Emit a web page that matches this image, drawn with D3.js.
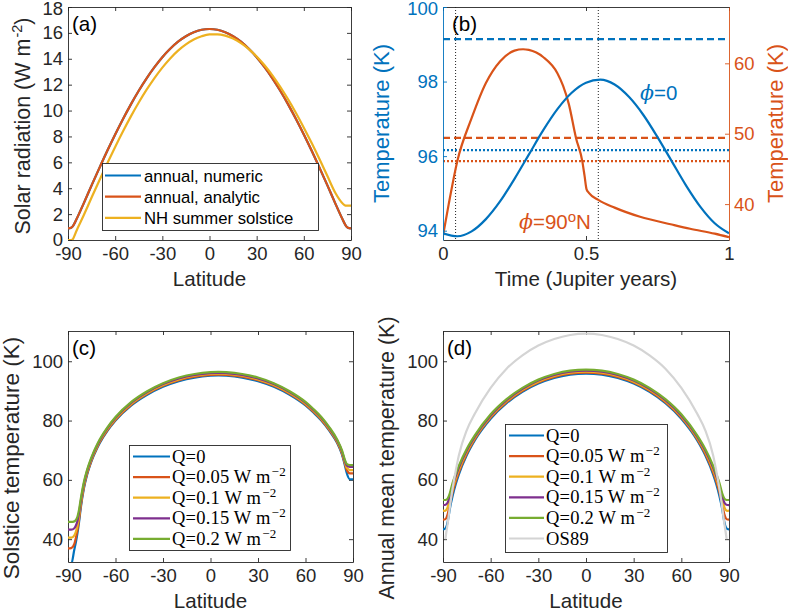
<!DOCTYPE html>
<html><head><meta charset="utf-8">
<script src="https://cdn.jsdelivr.net/npm/d3@7"></script>
<style>body{margin:0;background:#fff}svg{display:block}</style>
</head><body><svg id="chart" width="788" height="613"></svg>
<script>
// ---------------- DATA ----------------
// (a) solar radiation vs latitude
const latA = [-90,-88,-87,-86,-85,-80,-75,-70,-65,-60,-55,-50,-45,-40,-35,-30,-25,-20,-15,-10,-5,0,5,10,15,20,25,30,35,40,45,50,55,60,65,70,75,80,85,86,87,88,90];
const radNumeric = [0.9,0.95,1.05,1.25,1.5,2.83,4.22,5.57,6.89,8.15,9.35,10.48,11.53,12.49,13.35,14.12,14.77,15.32,15.74,16.05,16.24,16.3,16.24,16.05,15.74,15.32,14.77,14.12,13.35,12.49,11.53,10.48,9.35,8.15,6.89,5.57,4.22,2.83,1.5,1.25,1.05,0.95,0.9];
const radAnalytic = [0.9,0.95,1.05,1.25,1.5,2.83,4.22,5.57,6.89,8.15,9.35,10.48,11.53,12.49,13.35,14.12,14.77,15.32,15.74,16.05,16.24,16.3,16.24,16.05,15.74,15.32,14.77,14.12,13.35,12.49,11.53,10.48,9.35,8.15,6.89,5.57,4.22,2.83,1.5,1.25,1.05,0.95,0.9];
const radSolstice = [0,0,0.05,0.3,0.6,1.91,3.28,4.62,5.93,7.19,8.40,9.55,10.62,11.61,12.51,13.32,14.03,14.63,15.11,15.49,15.74,15.88,15.89,15.79,15.56,15.21,14.75,14.18,13.50,12.72,11.83,10.86,9.81,8.68,7.49,6.24,4.94,3.65,2.78,2.68,2.65,2.65,2.65];
const legendA = ["annual, numeric","annual, analytic","NH summer solstice"];

// (b) temperature vs time
const timeEq = [0,0.05,0.1,0.15,0.2,0.25,0.3,0.35,0.4,0.45,0.5,0.55,0.6,0.65,0.7,0.75,0.8,0.85,0.9,0.95,1];
const tempEq = [93.93,93.85,93.98,94.31,94.79,95.39,96.04,96.69,97.26,97.70,97.97,98.05,97.92,97.59,97.11,96.51,95.86,95.21,94.64,94.20,93.93];
const timePole = [0,0.02,0.05,0.1,0.15,0.2,0.25,0.28,0.3,0.35,0.4,0.42,0.44,0.465,0.487,0.495,0.502,0.51,0.543,0.6,0.689,0.8,0.864,0.95,1.0];
const tempPole = [35.5,40.0,46.1,52.2,57.2,60.3,61.8,62.0,61.9,60.9,58.6,56.8,54.2,49.4,46.1,44.0,42.1,41.6,40.6,39.5,38.2,37.1,36.5,35.8,35.3];
const eqDashed = 99.14, eqDotted = 96.16;     // left axis
const poleDashed = 49.4, poleDotted = 46.1;   // right axis
const markTimes = [0.044, 0.543];

// (c) solstice temperature
const latC = [-90,-88,-86,-85,-84,-83,-82,-80,-78,-76,-74,-72,-70,-65,-60,-50,-40,-30,-20,-10,0,5,10,20,30,40,50,60,65,70,75,80,83,84,85,86,88,90];
const solQ0  = [31.3,31.5,36.5,39.0,42.1,45.8,50.2,57.0,61.6,65.05,67.85,70.2,72.35,76.6,80.0,85.1,88.7,91.4,93.3,94.5,95.1,95.2,95.1,94.5,93.3,91.4,88.7,85.1,82.7,80.0,76.6,72.4,68.6,66.7,64.6,62.4,60.2,60.2];
const solQ05 = [36.9,37.0,38.4,40.5,43.2,46.7,50.9,57.5,61.95,65.3,68.15,70.5,72.65,76.9,80.3,85.4,89.0,91.7,93.6,94.8,95.4,95.5,95.4,94.8,93.6,91.7,89.0,85.4,83.0,80.3,76.9,72.7,68.95,67.1,65.2,63.4,62.2,62.2];
const solQ1  = [40.5,40.5,41.3,42.6,44.7,47.9,51.8,58.1,62.4,65.7,68.5,70.85,73.0,77.2,80.6,85.7,89.3,92.0,93.9,95.1,95.7,95.8,95.7,95.1,93.9,92.0,89.3,85.7,83.3,80.6,77.2,73.0,69.3,67.5,65.7,64.2,63.3,63.3];
const solQ15 = [43.2,43.2,43.7,44.6,46.2,49.0,52.6,58.65,62.85,66.1,68.85,71.2,73.3,77.5,80.9,86.0,89.6,92.3,94.2,95.4,96.0,96.1,96.0,95.4,94.2,92.3,89.6,86.0,83.6,80.9,77.5,73.3,69.65,67.9,66.15,64.9,64.4,64.4];
const solQ2  = [45.8,45.8,46.0,46.5,47.6,50.0,53.4,59.2,63.3,66.5,69.2,71.5,73.6,77.8,81.2,86.3,89.9,92.6,94.5,95.7,96.3,96.4,96.3,95.7,94.5,92.6,89.9,86.3,83.9,81.2,77.8,73.6,70.0,68.3,66.6,65.4,65.0,65.0];

// (d) annual mean temperature
const latD = [-90,-89,-88,-87,-86,-85,-84,-82,-80,-75,-70,-60,-50,-40,-30,-20,-10,0,10,20,30,40,50,60,70,75,80,82,84,85,86,87,88,89,90];
const annQ0  = [43.3,43.4,44.0,46.0,49.26,52.08,54.50,58.54,61.87,68.37,73.30,80.60,85.83,89.67,92.46,94.37,95.48,95.85,95.48,94.37,92.46,89.67,85.83,80.60,73.30,68.37,61.87,58.54,54.50,52.08,49.26,46.0,44.0,43.4,43.3];
const annQ05 = [46.6,46.63,47.07,48.57,51.04,53.53,55.73,59.47,62.60,68.90,73.73,80.98,86.17,90.00,92.80,94.70,95.82,96.19,95.82,94.70,92.80,90.00,86.17,80.98,73.73,68.90,62.60,59.47,55.73,53.53,51.04,48.57,47.07,46.63,46.6];
const annQ1  = [49.6,49.57,49.86,50.91,52.82,54.97,57.05,60.44,63.39,69.44,74.15,81.35,86.52,90.34,93.13,95.04,96.17,96.53,96.17,95.04,93.13,90.34,86.52,81.35,74.15,69.44,63.39,60.44,57.05,54.97,52.82,50.91,49.86,49.57,49.6];
const annQ15 = [51.5,51.53,51.72,52.47,53.97,55.98,58.02,61.24,64.13,69.97,74.58,81.73,86.86,90.67,93.47,95.37,96.51,96.86,96.51,95.37,93.47,90.67,86.86,81.73,74.58,69.97,64.13,61.24,58.02,55.98,53.97,52.47,51.72,51.53,51.5];
const annQ2  = [53.2,53.2,53.3,53.8,55.0,56.9,58.9,62.0,64.8,70.5,75.0,82.1,87.2,91.0,93.8,95.7,96.85,97.2,96.85,95.7,93.8,91.0,87.2,82.1,75.0,70.5,64.8,62.0,58.9,56.9,55.0,53.8,53.3,53.2,53.2];
const latOS = [-88.5,-88,-87,-86,-85,-84,-82,-80,-75,-70,-60,-50,-40,-30,-20,-10,0,10,20,30,40,50,60,70,75,80,82,84,85,86,87,88,88.5];
const os89  = [40,42,45.5,49.5,53.5,57,63,68.3,76.8,82.3,91,97.5,102,105.3,107.5,108.85,109.3,108.85,107.5,105.3,102,97.5,91,82.3,76.8,68.3,63,57,53.5,49.5,45.5,42,40];
const legendQ = ["Q=0","Q=0.05 W m","Q=0.1 W m","Q=0.15 W m","Q=0.2 W m"];

// ticks
const latTicks = [-90,-60,-30,0,30,60,90];
const radTicks = [0,2,4,6,8,10,12,14,16,18];
const timeTicks = [0,0.5,1];
const tLeftTicks = [94,96,98,100];
const tRightTicks = [40,50,60];
const tempTicks = [40,60,80,100];

// ---------------- STYLE ----------------
const SANS = '"Liberation Sans",Arial,sans-serif';
const SERIF = '"Liberation Serif","DejaVu Serif",serif';
const AX = '#262626';
const COL = {blue:'#0072BD', orange:'#D95319', yellow:'#EDB120', purple:'#7E2F8E', green:'#77AC30', gray:'#d4d4d4'};
const TICK = 18.5, LAB = 20.6, LEG = 16.7;
const svg = d3.select('#chart').style('font-family', SANS);
const defs = svg.append('defs');

function styleAxis(sel, color){
  sel.attr('font-size', null).attr('font-family', null);
  sel.select('.domain').attr('stroke', color).attr('stroke-width', 0.9);
  sel.selectAll('.tick line').attr('stroke', color).attr('stroke-width', 0.9);
  sel.selectAll('.tick text').attr('fill', color).style('font-size', TICK + 'px');
}

function makeAxes(o){
  const g = svg.append('g');
  const x = d3.scaleLinear().domain(o.xd).range([o.x0, o.x1]);
  const y = d3.scaleLinear().domain(o.yd).range([o.y1, o.y0]);
  const id = 'clip' + o.name;
  defs.append('clipPath').attr('id', id).append('rect')
    .attr('x', o.x0).attr('y', o.y0).attr('width', o.x1 - o.x0).attr('height', o.y1 - o.y0);
  g.append('g').attr('transform', `translate(0,${o.y1})`)
    .call(d3.axisBottom(x).tickValues(o.xt).tickFormat(d => String(d)).tickSizeInner(-4).tickSizeOuter(0).tickPadding(7))
    .call(s => styleAxis(s, AX));
  g.append('g').attr('transform', `translate(0,${o.y0})`)
    .call(d3.axisTop(x).tickValues(o.xt).tickFormat('').tickSizeInner(-4).tickSizeOuter(0))
    .call(s => styleAxis(s, AX));
  if (!o.noY) {
    g.append('g').attr('transform', `translate(${o.x0},0)`)
      .call(d3.axisLeft(y).tickValues(o.yt).tickFormat(d => String(d)).tickSizeInner(-4).tickSizeOuter(0).tickPadding(5))
      .call(s => styleAxis(s, AX));
    g.append('g').attr('transform', `translate(${o.x1},0)`)
      .call(d3.axisRight(y).tickValues(o.yt).tickFormat('').tickSizeInner(-4).tickSizeOuter(0))
      .call(s => styleAxis(s, AX));
  }
  const data = g.append('g').attr('clip-path', `url(#${id})`);
  return {g, x, y, data, id};
}

function drawLine(target, xs, ys, xScale, yScale, color, width, dash){
  const pts = xs.map((v, i) => [v, ys[i]]);
  const line = d3.line().x(d => xScale(d[0])).y(d => yScale(d[1])).curve(d3.curveMonotoneX);
  const p = target.append('path').datum(pts).attr('d', line)
    .attr('fill', 'none').attr('stroke', color).attr('stroke-width', width)
    .attr('stroke-linejoin', 'round');
  if (dash) p.attr('stroke-dasharray', dash);
  return p;
}

function label(txt, x, y, opts = {}){
  const t = svg.append('text').attr('x', 0).attr('y', 0)
    .attr('transform', `translate(${x},${y})` + (opts.rot ? ` rotate(${opts.rot})` : ''))
    .attr('text-anchor', opts.anchor || 'middle')
    .style('font-size', (opts.size || LAB) + 'px')
    .attr('fill', opts.color || AX);
  t.text(txt);
  return t;
}

// ---------------- PANEL (a) ----------------
const A = makeAxes({name:'a', x0:68, x1:351, y0:7, y1:240, xd:[-90,90], yd:[0,18], xt:latTicks, yt:radTicks});
A.g.selectAll('.tick text').filter(d => d === 18).attr('dy', '0.42em');
drawLine(A.data, latA, radNumeric, A.x, A.y, COL.blue, 2.2);
drawLine(A.data, latA, radAnalytic, A.x, A.y, COL.orange, 2.2);
drawLine(A.data, latA, radSolstice, A.x, A.y, COL.yellow, 2.2);
label('Latitude', 209.5, 286);
{
  const t = label('', 30, 126, {rot:-90, size:21.5});
  t.append('tspan').text('Solar radiation (W m');
  t.append('tspan').attr('dy', -8).attr('dx', 1).style('font-size', '14.5px').text('-2');
  t.append('tspan').attr('dy', 8).text(')');
}
label('(a)', 72, 31, {anchor:'start', color:'#000'});
// legend (a)
{
  const lg = svg.append('g');
  lg.append('rect').attr('x', 102.5).attr('y', 163.5).attr('width', 216).attr('height', 67)
    .attr('fill', '#fff').attr('stroke', AX).attr('stroke-width', 0.9);
  const cols = [COL.blue, COL.orange, COL.yellow];
  legendA.forEach((s, i) => {
    const yy = 175.5 + i * 21.2;
    lg.append('line').attr('x1', 105).attr('x2', 141).attr('y1', yy).attr('y2', yy)
      .attr('stroke', cols[i]).attr('stroke-width', 2.2);
    lg.append('text').attr('x', 144).attr('y', yy + 6).style('font-size', LEG + 'px').attr('fill', '#000').text(s);
  });
}

// ---------------- PANEL (b) ----------------
const B = makeAxes({name:'b', x0:443, x1:729, y0:7, y1:240, xd:[0,1], yd:[93.75,100], xt:timeTicks, yt:tLeftTicks, noY:true});
const yR = d3.scaleLinear().domain([34.9, 68.0]).range([240, 7]);
B.g.append('g').attr('transform', 'translate(443,0)')
  .call(d3.axisLeft(B.y).tickValues(tLeftTicks).tickFormat(d => String(d)).tickSizeInner(-4).tickSizeOuter(0).tickPadding(5))
  .call(s => styleAxis(s, COL.blue))
  .call(s => s.selectAll('.tick text').filter(d => d === 100).attr('dy', '0.42em'));
B.g.append('g').attr('transform', 'translate(729,0)')
  .call(d3.axisRight(yR).tickValues(tRightTicks).tickFormat(d => String(d)).tickSizeInner(-4).tickSizeOuter(0).tickPadding(5))
  .call(s => styleAxis(s, COL.orange));
markTimes.forEach(t => {
  B.data.append('line').attr('x1', B.x(t)).attr('x2', B.x(t)).attr('y1', 7).attr('y2', 240)
    .attr('stroke', '#222').attr('stroke-width', 1).attr('stroke-dasharray', '1,2');
});
drawLine(B.data, [0,1], [eqDashed,eqDashed], B.x, B.y, COL.blue, 2.2, '7,4');
drawLine(B.data, [0,1], [eqDotted,eqDotted], B.x, B.y, COL.blue, 2.2, '2,2');
drawLine(B.data, [0,1], [poleDashed,poleDashed], B.x, yR, COL.orange, 2.2, '7,4');
drawLine(B.data, [0,1], [poleDotted,poleDotted], B.x, yR, COL.orange, 2.2, '2,2');
drawLine(B.data, timePole, tempPole, B.x, yR, COL.orange, 2.2);
drawLine(B.data, timeEq, tempEq, B.x, B.y, COL.blue, 2.2);
label('Time (Jupiter years)', 586, 286);
label('Temperature (K)', 389, 123.5, {rot:-90, color:COL.blue, size:22});
label('Temperature (K)', 783, 123.5, {rot:-90, color:COL.orange, size:22});
label('(b)', 452, 31, {anchor:'start', color:'#000'});
{
  const t = svg.append('text').attr('x', 640).attr('y', 100).style('font-size', '20.5px').attr('fill', COL.blue);
  t.append('tspan').style('font-family', '"DejaVu Serif",serif').style('font-style', 'italic').text('ϕ');
  t.append('tspan').text('=0');
  const u = svg.append('text').attr('x', 519).attr('y', 229).style('font-size', '20.5px').attr('fill', COL.orange);
  u.append('tspan').style('font-family', '"DejaVu Serif",serif').style('font-style', 'italic').text('ϕ');
  u.append('tspan').text('=90');
  u.append('tspan').attr('dy', -7).style('font-size', '15px').text('o');
  u.append('tspan').attr('dy', 7).text('N');
}

// ---------------- PANEL (c) ----------------
const Cq = makeAxes({name:'c', x0:68, x1:353, y0:331, y1:562, xd:[-90,90], yd:[32.3,110.2], xt:latTicks, yt:tempTicks});
const qCols = [COL.blue, COL.orange, COL.yellow, COL.purple, COL.green];
[solQ0, solQ05, solQ1, solQ15, solQ2].forEach((s, i) => drawLine(Cq.data, latC, s, Cq.x, Cq.y, qCols[i], 2.2));
label('Latitude', 210.5, 608);
label('Solstice temperature (K)', 19, 458, {rot:-90, size:22.5});
label('(c)', 72, 355, {anchor:'start', color:'#000'});

// ---------------- PANEL (d) ----------------
const Dq = makeAxes({name:'d', x0:443, x1:729, y0:331, y1:562, xd:[-90,90], yd:[32.3,110.2], xt:latTicks, yt:tempTicks});
[annQ0, annQ05, annQ1, annQ15, annQ2].forEach((s, i) => drawLine(Dq.data, latD, s, Dq.x, Dq.y, qCols[i], 2.2));
drawLine(Dq.data, latOS, os89, Dq.x, Dq.y, COL.gray, 2.2);
label('Latitude', 586, 608);
label('Annual mean temperature (K)', 394, 458, {rot:-90, size:21.5});
label('(d)', 447, 355, {anchor:'start', color:'#000'});

// legends (c), (d)
function qLegend(x, y, w, h, rowY0, lineX0, lineX1, entries){
  const lg = svg.append('g');
  lg.append('rect').attr('x', x).attr('y', y).attr('width', w).attr('height', h)
    .attr('fill', '#fff').attr('stroke', AX).attr('stroke-width', 0.9);
  entries.forEach((e, i) => {
    const yy = rowY0 + i * 20.6;
    lg.append('line').attr('x1', lineX0).attr('x2', lineX1).attr('y1', yy).attr('y2', yy)
      .attr('stroke', e.c).attr('stroke-width', 2.2);
    const t = lg.append('text').attr('x', lineX1 + 2).attr('y', yy + 6)
      .style('font-family', SERIF).style('font-size', '18.5px').style('letter-spacing', '0.2px').attr('fill', '#000');
    t.append('tspan').text(e.s);
    if (e.sup) t.append('tspan').attr('dy', -7).attr('dx', 1).style('font-size', '13px').text('−2');
  });
}
const entC = legendQ.map((s, i) => ({s, c:qCols[i], sup:i > 0}));
qLegend(129.5, 445.5, 161, 105, 456.5, 133, 170, entC);
const entD = entC.concat([{s:'OS89', c:COL.gray, sup:false}]);
qLegend(505.5, 424.5, 162, 128, 435.5, 509, 544, entD);
</script>
</body></html>
